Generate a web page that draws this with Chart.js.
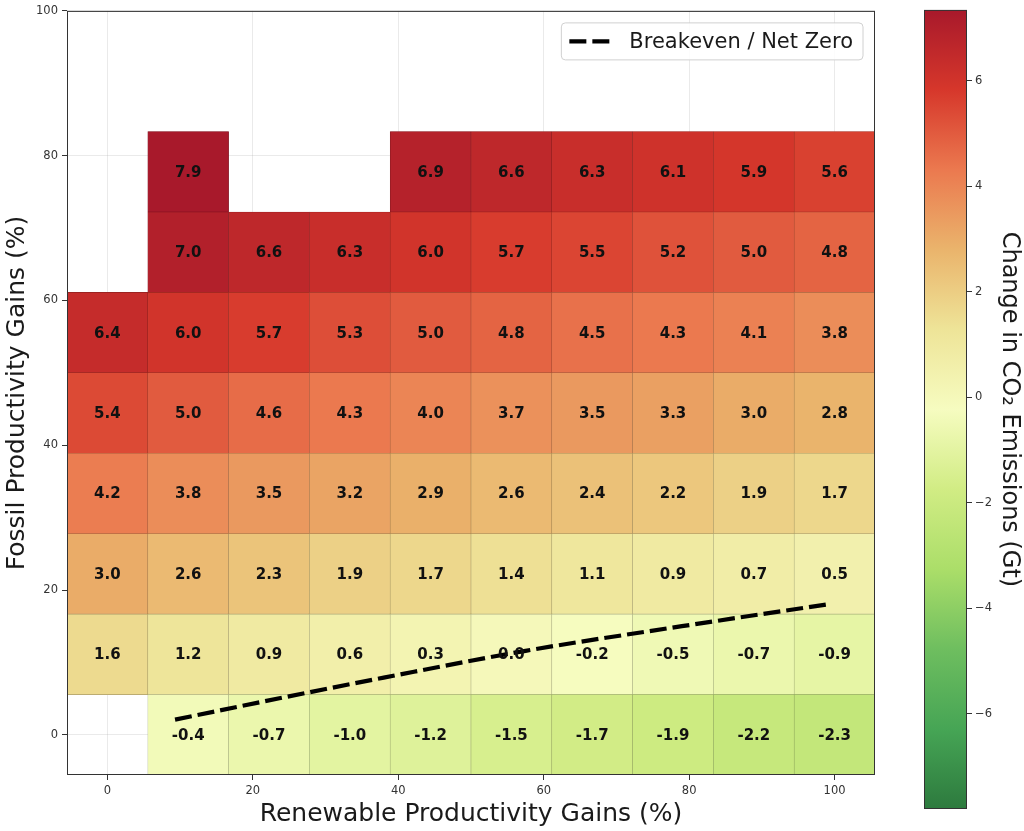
<!DOCTYPE html>
<html>
<head>
<meta charset="utf-8">
<script src="https://cdn.jsdelivr.net/npm/chart.js@4.4.1/dist/chart.umd.min.js"></script>
<style>
  html, body { margin: 0; padding: 0; background: #fff; }
  #wrap { position: relative; width: 1024px; height: 831px; }
  #heat { position: absolute; left: 0; top: 0; }
  #cbar { position: absolute; left: 920px; top: 0; }
</style>
</head>
<body>
<div id="wrap">
  <canvas id="heat" width="1024" height="831"></canvas>
  <canvas id="cbar" width="104" height="831"></canvas>
</div>
<script>
// scenario grid: renewable gains (x) and fossil gains (y), in %
var renewGains = [0, 11.111, 22.222, 33.333, 44.444, 55.556, 66.667, 77.778, 88.889, 100];
var fossilGains = [0, 11.111, 22.222, 33.333, 44.444, 55.556, 66.667, 77.778];

// change in CO2 emissions (Gt), one list per fossil row, null = no scenario
var co2Fossil0  = [null, -0.4, -0.7, -1.0, -1.2, -1.5, -1.7, -1.9, -2.2, -2.3];
var co2Fossil11 = [1.6, 1.2, 0.9, 0.6, 0.3, 0.0, -0.2, -0.5, -0.7, -0.9];
var co2Fossil22 = [3.0, 2.6, 2.3, 1.9, 1.7, 1.4, 1.1, 0.9, 0.7, 0.5];
var co2Fossil33 = [4.2, 3.8, 3.5, 3.2, 2.9, 2.6, 2.4, 2.2, 1.9, 1.7];
var co2Fossil44 = [5.4, 5.0, 4.6, 4.3, 4.0, 3.7, 3.5, 3.3, 3.0, 2.8];
var co2Fossil56 = [6.4, 6.0, 5.7, 5.3, 5.0, 4.8, 4.5, 4.3, 4.1, 3.8];
var co2Fossil67 = [null, 7.0, 6.6, 6.3, 6.0, 5.7, 5.5, 5.2, 5.0, 4.8];
var co2Fossil78 = [null, 7.9, null, null, 6.9, 6.6, 6.3, 6.1, 5.9, 5.6];
var co2Rows = [co2Fossil0, co2Fossil11, co2Fossil22, co2Fossil33,
               co2Fossil44, co2Fossil56, co2Fossil67, co2Fossil78];

// breakeven (net zero) curve
var breakevenX = [9.3, 27.4, 38.0, 57.5, 79.0, 99.6];
var breakevenY = [2.1, 5.8, 7.9, 11.6, 15.0, 18.1];

var axisTicks = [0, 20, 40, 60, 80, 100];
var cbarTicks = [-6, -4, -2, 0, 2, 4, 6];
var cbarMin = -7.8, cbarMax = 7.34;

var FONT = '"DejaVu Sans", "Liberation Sans", sans-serif';

// green -> yellow -> red palette, evenly spaced from cbarMin to cbarMax
var palette = ['#2d7a3e', '#46a555', '#6ebe5f', '#abde69', '#d1ec84', '#f6fcc0',
               '#eee498', '#eab46c', '#eb794f', '#d6372b', '#a8192b'];

function hexRgb(h) {
  return [parseInt(h.slice(1, 3), 16), parseInt(h.slice(3, 5), 16), parseInt(h.slice(5, 7), 16)];
}
function rgb(c) { return 'rgb(' + c.join(',') + ')'; }
function cmapRgb(v) {
  var t = Math.max(0, Math.min(1, (v - cbarMin) / (cbarMax - cbarMin))) * 10;
  var i = Math.min(9, Math.floor(t)), f = t - i;
  var c0 = hexRgb(palette[i]), c1 = hexRgb(palette[i + 1]);
  return c0.map(function (c, k) { return Math.round(c + (c1[k] - c) * f); });
}
function cmap(v) { return rgb(cmapRgb(v)); }
function cmapEdge(v) {
  return rgb(cmapRgb(v).map(function (c) { return Math.round(c * 0.72); }));
}

var framePlugin = {
  id: 'frame',
  afterDraw: function (chart) {
    var a = chart.chartArea, ctx = chart.ctx;
    ctx.save();
    ctx.strokeStyle = '#333';
    ctx.lineWidth = 1;
    ctx.strokeRect(a.left + 0.5, a.top + 0.5, a.right - a.left - 1, a.bottom - a.top - 1);
    ctx.restore();
  }
};

// value labels in each cell
var cellLabels = {
  id: 'cellLabels',
  afterDatasetsDraw: function (chart) {
    var ctx = chart.ctx;
    ctx.save();
    ctx.font = 'bold 15px ' + FONT;
    ctx.fillStyle = '#111';
    ctx.textAlign = 'center';
    ctx.textBaseline = 'middle';
    chart.data.datasets.forEach(function (ds, i) {
      if (ds.type !== 'bar') return;
      chart.getDatasetMeta(i).data.forEach(function (el, j) {
        var p = el.getCenterPoint();
        ctx.fillText(ds.data[j].v.toFixed(1), p.x, p.y + 1);
      });
    });
    ctx.restore();
  }
};

// legend box in the upper right of the plot
var insideLegend = {
  id: 'insideLegend',
  afterDraw: function (chart) {
    var ds = chart.data.datasets.filter(function (d) { return d.type === 'line'; })[0];
    var a = chart.chartArea, ctx = chart.ctx;
    ctx.save();
    ctx.font = '21px ' + FONT;
    var tw = ctx.measureText(ds.label).width;
    var w = 8 + 40 + 20 + tw + 10, h = 37;
    var x = a.right - 12 - w, y = a.top + 12;
    ctx.beginPath();
    ctx.roundRect(x, y, w, h, 4);
    ctx.fillStyle = 'rgba(255,255,255,0.85)';
    ctx.fill();
    ctx.strokeStyle = '#d0d0d0';
    ctx.lineWidth = 1;
    ctx.stroke();
    ctx.beginPath();
    ctx.setLineDash([17, 6]);
    ctx.lineWidth = ds.borderWidth;
    ctx.strokeStyle = ds.borderColor;
    ctx.moveTo(x + 8, y + h / 2);
    ctx.lineTo(x + 48, y + h / 2);
    ctx.stroke();
    ctx.setLineDash([]);
    ctx.fillStyle = '#1a1a1a';
    ctx.textBaseline = 'middle';
    ctx.fillText(ds.label, x + 68, y + h / 2 + 1);
    ctx.restore();
  }
};

var half = (fossilGains[1] - fossilGains[0]) / 2;
var cellSets = fossilGains.map(function (fy, r) {
  var pts = [];
  co2Rows[r].forEach(function (v, c) {
    if (v !== null) pts.push({ x: renewGains[c], y: [fy - half, fy + half], v: v });
  });
  return {
    type: 'bar',
    label: 'fossil ' + fy,
    data: pts,
    order: 2,
    grouped: false,
    barPercentage: 1,
    categoryPercentage: 1,
    backgroundColor: function (ctx) { return ctx.raw ? cmap(ctx.raw.v) : 'transparent'; },
    borderColor: function (ctx) { return ctx.raw ? cmapEdge(ctx.raw.v) : 'transparent'; },
    borderWidth: 0.6,
    borderSkipped: false
  };
});

var lineSet = {
  type: 'line',
  label: 'Breakeven / Net Zero',
  data: breakevenX.map(function (x, i) { return { x: x, y: breakevenY[i] }; }),
  borderColor: '#000',
  borderWidth: 4.2,
  borderDash: [17, 6],
  pointRadius: 0,
  fill: false,
  cubicInterpolationMode: 'monotone',
  order: 0
};

var tickFont = { family: FONT, size: 11.5 };
var titleFont = { family: FONT, size: 25 };

new Chart(document.getElementById('heat'), {
  type: 'bar',
  data: { datasets: cellSets.concat([lineSet]) },
  options: {
    responsive: false,
    animation: false,
    layout: { padding: { left: 0, right: 149, top: 8, bottom: 0 } },
    plugins: { legend: { display: false }, tooltip: { enabled: false } },
    scales: {
      x: {
        type: 'linear', min: -5.556, max: 105.556, offset: false, z: 1,
        afterBuildTicks: function (s) { s.ticks = axisTicks.map(function (v) { return { value: v }; }); },
        afterFit: function (s) { s.height = 56; },
        grid: { color: 'rgba(150,150,150,0.2)', tickColor: '#333', tickLength: 5, offset: false },
        border: { display: false },
        ticks: { font: tickFont, color: '#333', padding: 4, maxRotation: 0 },
        title: { display: true, text: 'Renewable Productivity Gains (%)', font: titleFont, color: '#1a1a1a', padding: { top: 0, bottom: 2 } }
      },
      y: {
        type: 'linear', min: -5.556, max: 100, z: 1,
        afterBuildTicks: function (s) { s.ticks = axisTicks.map(function (v) { return { value: v }; }); },
        afterFit: function (s) { s.width = 67; },
        grid: { color: 'rgba(150,150,150,0.2)', tickColor: '#333', tickLength: 5 },
        border: { display: false },
        ticks: { font: tickFont, color: '#333', padding: 4 },
        title: { display: true, text: 'Fossil Productivity Gains (%)', font: titleFont, color: '#1a1a1a', padding: { top: 2, bottom: 0 } }
      }
    }
  },
  plugins: [cellLabels, framePlugin, insideLegend]
});

// colour bar
function barGradient(ctx) {
  var chart = ctx.chart;
  if (!chart.chartArea) return 'transparent';
  var ys = chart.scales.y;
  var g = chart.ctx.createLinearGradient(0, ys.getPixelForValue(cbarMin), 0, ys.getPixelForValue(cbarMax));
  palette.forEach(function (c, i) { g.addColorStop(i / 10, c); });
  return g;
}

new Chart(document.getElementById('cbar'), {
  type: 'bar',
  data: {
    labels: [''],
    datasets: [{ data: [[cbarMin, cbarMax]], backgroundColor: barGradient, borderWidth: 0, barPercentage: 1, categoryPercentage: 1 }]
  },
  options: {
    responsive: false,
    animation: false,
    layout: { padding: { left: 4, right: 0, top: 3.5, bottom: 22 } },
    plugins: { legend: { display: false }, tooltip: { enabled: false } },
    scales: {
      x: { display: false },
      y: {
        position: 'right', min: cbarMin, max: cbarMax,
        afterBuildTicks: function (s) { s.ticks = cbarTicks.map(function (v) { return { value: v }; }); },
        afterFit: function (s) { s.width = 57; },
        grid: { drawOnChartArea: false, tickColor: '#333', tickLength: 5 },
        border: { display: false },
        ticks: {
          font: tickFont, color: '#333', padding: 3,
          callback: function (v) { return v < 0 ? '\u2212' + Math.abs(v) : String(v); }
        },
        title: { display: true, text: 'Change in CO\u2082 Emissions (Gt)', font: { family: FONT, size: 24 }, color: '#1a1a1a', padding: 0 }
      }
    }
  },
  plugins: [framePlugin]
});
</script>
</body>
</html>
